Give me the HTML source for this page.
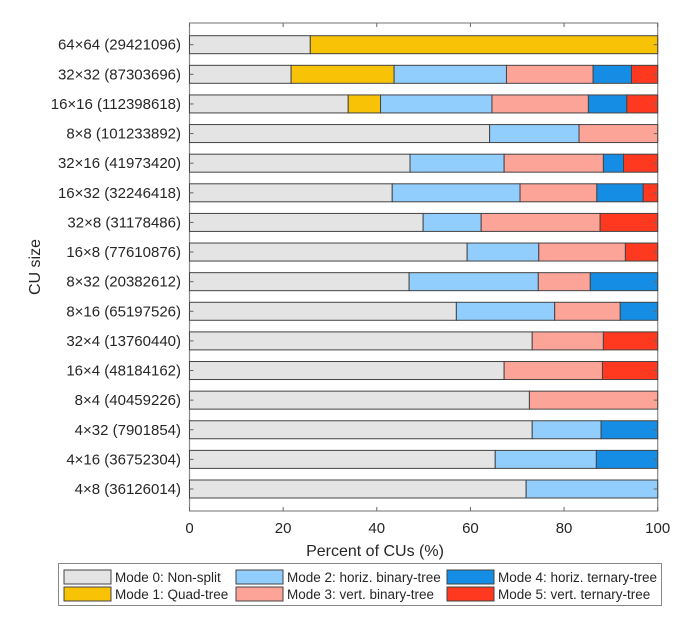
<!DOCTYPE html>
<html><head><meta charset="utf-8"><style>
body{margin:0;background:#fff;}
svg{display:block;font-family:"Liberation Sans",sans-serif;}
</style></head><body>
<svg id="chart" width="692" height="627"></svg>
<script>
const categories=["64×64 (29421096)","32×32 (87303696)","16×16 (112398618)","8×8 (101233892)","32×16 (41973420)","16×32 (32246418)","32×8 (31178486)","16×8 (77610876)","8×32 (20382612)","8×16 (65197526)","32×4 (13760440)","16×4 (48184162)","8×4 (40459226)","4×32 (7901854)","4×16 (36752304)","4×8 (36126014)"];
const mode0=[25.8,21.7,33.9,64.1,47.1,43.3,49.9,59.3,46.9,57.0,73.2,67.2,72.6,73.2,65.3,71.9];
const mode1=[74.2,22.0,6.9,0,0,0,0,0,0,0,0,0,0,0,0,0];
const mode2=[0,24.0,23.8,19.1,20.1,27.3,12.4,15.3,27.6,21.0,0,0,0,14.7,21.6,28.1];
const mode3=[0,18.5,20.6,16.8,21.2,16.4,25.4,18.5,11.1,14.0,15.2,21.0,27.4,0,0,0];
const mode4=[0,8.2,8.2,0,4.3,9.9,0,0,14.4,8.0,0,0,0,12.1,13.1,0];
const mode5=[0,5.6,6.6,0,7.3,3.1,12.3,6.9,0,0,11.6,11.8,0,0,0,0];
const seriesNames=["Mode 0: Non-split","Mode 1: Quad-tree","Mode 2: horiz. binary-tree","Mode 3: vert. binary-tree","Mode 4: horiz. ternary-tree","Mode 5: vert. ternary-tree"];
const xTicks=[0,20,40,60,80,100];

const svg=document.getElementById('chart');
const NS='http://www.w3.org/2000/svg';
const colors=["#e4e4e4","#f8c306","#91cdfd","#fda499","#158de5","#fe391f"];
const series=[mode0,mode1,mode2,mode3,mode4,mode5];
const X0=189.5,X1=657.7,YT=23,YB=511;
const x=v=>X0+(X1-X0)*v/100;
const rowH=(489-44.7)/15;
const y=i=>44.7+i*rowH;
function el(t,a){const e=document.createElementNS(NS,t);for(const k in a)e.setAttribute(k,a[k]);svg.appendChild(e);return e;}

const frame=el('rect',{x:X0,y:YT,width:X1-X0,height:YB-YT,fill:'none',stroke:'#888','stroke-width':1.2});



categories.forEach((c,i)=>{
  let acc=0;
  series.forEach((s,k)=>{
    const v=s[i];
    if(v>0){
      const r=el('rect',{x:x(acc),y:y(i)-9,width:x(acc+v)-x(acc),height:18,fill:colors[k],stroke:'#444','stroke-width':1});
      
      
    }
    acc+=v;
  });
  el('line',{x1:X0,x2:X0+4,y1:y(i),y2:y(i),stroke:'#666'});
  el('line',{x1:X1,x2:X1-4,y1:y(i),y2:y(i),stroke:'#666'});
  const t=el('text',{x:181,y:y(i)+5,'text-anchor':'end','font-size':15,fill:'#262626'});
  t.textContent=c;
  
  
});
xTicks.forEach(v=>{
  el('line',{x1:x(v),x2:x(v),y1:YB,y2:YB-4,stroke:'#666'});
  el('line',{x1:x(v),x2:x(v),y1:YT,y2:YT+4,stroke:'#666'});
  const t=el('text',{x:x(v),y:533,'text-anchor':'middle','font-size':15,fill:'#262626'});
  t.textContent=v;
  
  
});
const xt=el('text',{x:375,y:556,'text-anchor':'middle','font-size':16,fill:'#262626'});
xt.textContent='Percent of CUs (%)';


const yt=el('text',{x:0,y:0,'text-anchor':'middle','font-size':16,fill:'#262626',transform:'translate(40,267) rotate(-90)'});
yt.textContent='CU size';



const lg=el('rect',{x:58.5,y:563.5,width:603,height:42,fill:'#fff',stroke:'#888'});


const colX=[64,236,447];
seriesNames.forEach((n,k)=>{
  const cx=colX[Math.floor(k/2)], ry=k%2===0?570:587;
  const sw=el('rect',{x:cx,y:ry,width:47,height:14,fill:colors[k],stroke:'#444'});
  
  
  const t=el('text',{x:cx+51,y:ry+12,'font-size':13.5,fill:'#262626'});
  t.textContent=n;
  
  
});
</script>
</body></html>
